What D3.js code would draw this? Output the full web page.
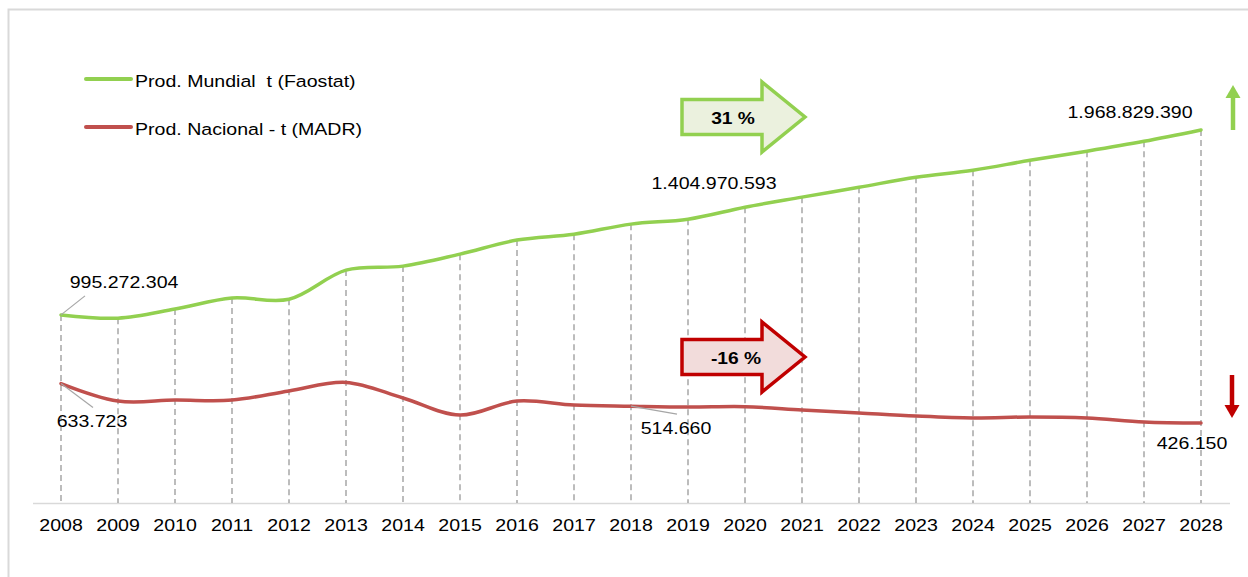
<!DOCTYPE html>
<html>
<head>
<meta charset="utf-8">
<script src="https://cdn.jsdelivr.net/npm/d3@7"></script>
<style>
  body { margin: 0; background: #fff; }
  svg { display: block; font-family: "Liberation Sans", Arial, Helvetica, sans-serif; }
  text { white-space: pre; }
</style>
</head>
<body>
<svg id="chart" width="1248" height="577"></svg>
<script>
// Data
const years = [2008, 2009, 2010, 2011, 2012, 2013, 2014, 2015, 2016, 2017, 2018,
               2019, 2020, 2021, 2022, 2023, 2024, 2025, 2026, 2027, 2028];

// World production, tonnes (Faostat)
const prodMundial = [995272304, 978000000, 1026000000, 1084000000, 1078000000, 1231000000,
                     1252000000, 1315000000, 1389000000, 1420000000, 1473000000, 1499000000,
                     1562000000, 1615000000, 1667000000, 1720000000, 1757000000, 1809000000,
                     1857000000, 1909000000, 1968829390];

// National production, tonnes (MADR)
const prodNacional = [633723, 542000, 547000, 547000, 595000, 640000, 558000, 468000,
                      542000, 521000, 514660, 510000, 512000, 495000, 479000, 463000,
                      453000, 458000, 453000, 432000, 426150];

const seriesNames = ['Prod. Mundial  t (Faostat)', 'Prod. Nacional - t (MADR)'];
const seriesColors = ['#92D050', '#C0504D'];

// labels shown on the chart
const labelSeries = [0, 0, 0, 1, 1, 1];
const labelYears = [2008, 2018, 2028, 2008, 2018, 2028];
const labelTexts = ['995.272.304', '1.404.970.593', '1.968.829.390', '633.723', '514.660', '426.150'];

const changeTexts = ['31 %', '-16 %'];

const svg = d3.select('#chart');
const stretch = 1.2; // text in the reference is drawn a bit wide

// scales
const x = d3.scalePoint().domain(years).range([61, 1201]);
const yMundial = d3.scaleLinear().domain([0, 2.5e9]).range([504, 29]);
const yNacional = d3.scaleLinear().domain([0, 2.5e6]).range([504, 29]);
const yScales = [yMundial, yNacional];
const seriesData = [prodMundial, prodNacional];

function addText(px, py, txt, opts = {}) {
    const g = svg.append('g').attr('transform', `translate(${px},${py})`);
    g.append('text')
        .attr('transform', `scale(${stretch},1)`)
        .attr('dy', '0.35em')
        .attr('text-anchor', opts.anchor || 'middle')
        .style('font-size', (opts.size || 16.3) + 'px')
        .style('font-weight', opts.bold ? 'bold' : 'normal')
        .style('fill', '#000')
        .text(txt);
    return g;
}

// chart frame (top + left edges visible)
svg.append('path')
    .attr('d', 'M8.5,577 V9.5 H1248')
    .attr('fill', 'none')
    .attr('stroke', '#d9d9d9')
    .attr('stroke-width', 2);

// x axis line
svg.append('line')
    .attr('x1', 33).attr('x2', 1230)
    .attr('y1', 503.5).attr('y2', 503.5)
    .attr('stroke', '#d9d9d9')
    .attr('stroke-width', 1.5);

// year labels
years.forEach(yr => addText(x(yr), 525, yr));

// drop lines from the top series down to the axis
svg.append('g').selectAll('line')
    .data(years)
    .enter()
    .append('line')
    .attr('x1', d => x(d)).attr('x2', d => x(d))
    .attr('y1', (d, i) => yMundial(prodMundial[i]))
    .attr('y2', 503)
    .attr('stroke', '#a6a6a6')
    .attr('stroke-width', 1.5)
    .attr('stroke-dasharray', '6,4');

// series lines (smoothed like the original)
seriesData.forEach((vals, s) => {
    const line = d3.line()
        .x((d, i) => x(years[i]))
        .y(d => yScales[s](d))
        .curve(d3.curveCatmullRom.alpha(0.5));
    svg.append('path')
        .datum(vals)
        .attr('d', line)
        .attr('fill', 'none')
        .attr('stroke', seriesColors[s])
        .attr('stroke-width', 3.5)
        .attr('stroke-linecap', 'round');
});

// data labels: offsets from their point, and optional leader line end
const labelLayout = [
    { dx: 63, dy: -33, lx: 24, ly: -19 },
    { dx: 83, dy: -41 },
    { dx: -71, dy: -18 },
    { dx: 31, dy: 38, lx: 32, ly: 24 },
    { dx: 45, dy: 22, lx: 46, ly: 8 },
    { dx: -9, dy: 20 }
];
labelTexts.forEach((txt, i) => {
    const s = labelSeries[i];
    const idx = years.indexOf(labelYears[i]);
    const px = x(labelYears[i]);
    const py = yScales[s](seriesData[s][idx]);
    const L = labelLayout[i];
    if (L.lx !== undefined) {
        svg.append('line')
            .attr('x1', px).attr('y1', py)
            .attr('x2', px + L.lx).attr('y2', py + L.ly)
            .attr('stroke', '#a6a6a6')
            .attr('stroke-width', 1.2);
    }
    addText(px + L.dx, py + L.dy, txt);
});

// legend
seriesNames.forEach((name, i) => {
    const ly = 79 + i * 48;
    svg.append('line')
        .attr('x1', 86).attr('x2', 131)
        .attr('y1', ly).attr('y2', ly)
        .attr('stroke', seriesColors[i])
        .attr('stroke-width', 4)
        .attr('stroke-linecap', 'round');
    addText(135, ly + 2, name, { anchor: 'start' });
});

// big block arrows with percentage change
function blockArrow(x0, xh, xt, cy, hb, hh) {
    return [[x0, cy - hb], [xh, cy - hb], [xh, cy - hh], [xt, cy],
            [xh, cy + hh], [xh, cy + hb], [x0, cy + hb]];
}
const arrowStyles = [
    { cy: 117, fill: '#EBF1DE', stroke: '#92D050', tx: 733 },
    { cy: 357, fill: '#F2DCDB', stroke: '#C00000', tx: 736 }
];
arrowStyles.forEach((a, i) => {
    const pts = blockArrow(x(2019) - 6, x(2020) + 17, x(2021) + 3, a.cy, 17.5, 35);
    svg.append('polygon')
        .attr('points', pts.map(p => p.join(',')).join(' '))
        .attr('fill', a.fill)
        .attr('stroke', a.stroke)
        .attr('stroke-width', 3.5)
        .attr('stroke-linejoin', 'miter');
    addText(a.tx, a.cy + 1, changeTexts[i], { bold: true, size: 16 });
});

// small trend arrows on the right
function trendArrow(cx, yStart, yBase, yTip, color) {
    svg.append('line')
        .attr('x1', cx).attr('x2', cx)
        .attr('y1', yStart).attr('y2', yBase)
        .attr('stroke', color)
        .attr('stroke-width', 4.5);
    svg.append('polygon')
        .attr('points', `${cx - 7.5},${yBase} ${cx + 7.5},${yBase} ${cx},${yTip}`)
        .attr('fill', color);
}
trendArrow(1233, 130, 98, 85, '#92D050');
trendArrow(1232, 375, 405, 418, '#C00000');
</script>
</body>
</html>
